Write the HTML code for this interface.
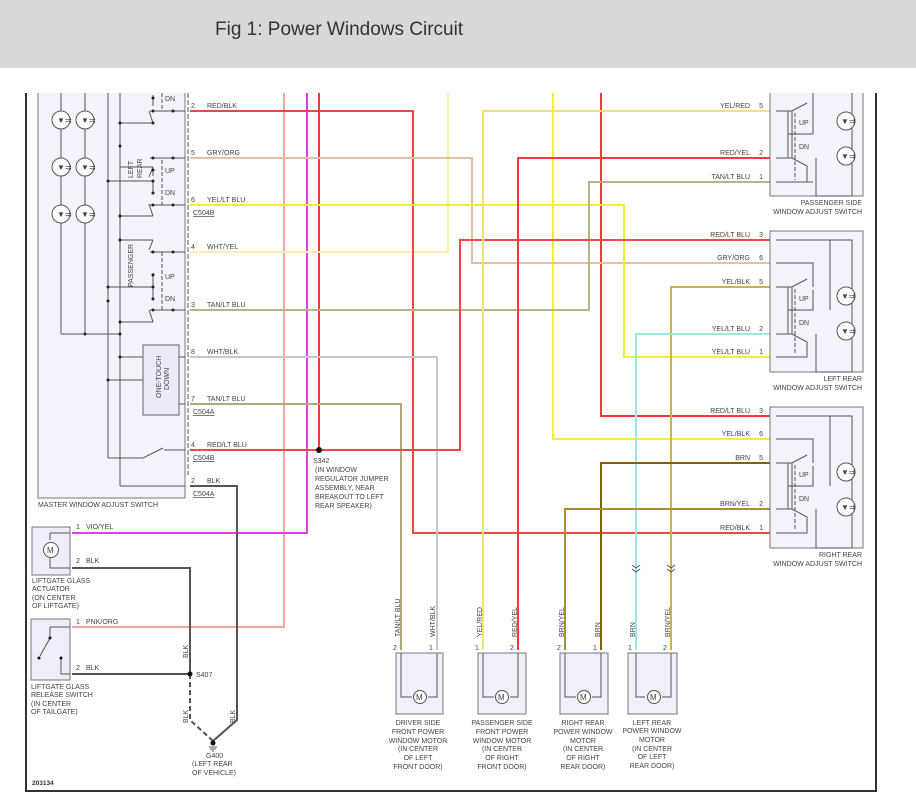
<!DOCTYPE html>
<html><head><meta charset="utf-8"><style>
html,body{margin:0;padding:0;background:#fff;}
svg{display:block;font-family:"Liberation Sans",sans-serif;}
text{font-size:7px;fill:#444;}
</style></head><body>
<svg width="916" height="812" viewBox="0 0 916 812" xmlns="http://www.w3.org/2000/svg">
<rect x="0" y="0" width="916" height="68" fill="#d8d8d8"/>
<text x="215" y="35" style="font-size:19px;fill:#333">Fig 1: Power Windows Circuit</text>
<!-- frame -->
<path d="M26 93 V791 H876 V93" fill="none" stroke="#333" stroke-width="2"/>
<text x="32" y="785" style="font-size:6.5px;font-weight:bold;fill:#333">203134</text>

<!-- master switch box -->
<rect x="38" y="88" width="147" height="410" fill="#f3f3fc" stroke="#777"/>
<rect x="26" y="80" width="850" height="13" fill="#fff"/>
<text x="38" y="507">MASTER WINDOW ADJUST SWITCH</text>
<g fill="none" stroke="#555" stroke-width="1">
<path d="M61 93V334M85 93V334M61 334H120M108 93V458M120 93V486M108 458H143l20-10"/>
<path d="M120 123H153M120 167H153M108 181H153M120 216H153M120 240H153M108 287H153M120 322H153M120 357H143M108 380H143M178 357H185M178 404H185M164 450H185M120 486H185"/>
<path d="M153 95V106M153 123l-4-12M153 167l-4 10M153 170V176M153 181V193M153 216l-4-12M153 240l-4 10M153 273V287M153 287V298M153 322l-4-12M150 111H185M150 158H185M150 205H185M150 252H185M150 310H185"/>
<path d="M162 93V111M162 160V205M162 252V310" stroke-dasharray="4,2"/>
<path d="M188 93V475" stroke-dasharray="5,2"/>
<path d="M85 230V255" />
</g>
<g fill="#222"><circle cx="153" cy="98" r="1.5"/><circle cx="153" cy="111" r="1.5"/><circle cx="173" cy="111" r="1.5"/><circle cx="120" cy="123" r="1.5"/><circle cx="153" cy="123" r="1.5"/>
<circle cx="120" cy="146" r="1.5"/><circle cx="153" cy="158" r="1.5"/><circle cx="173" cy="158" r="1.5"/><circle cx="153" cy="170" r="1.5"/><circle cx="108" cy="181" r="1.5"/><circle cx="153" cy="181" r="1.5"/><circle cx="153" cy="193" r="1.5"/><circle cx="153" cy="205" r="1.5"/><circle cx="173" cy="205" r="1.5"/><circle cx="120" cy="216" r="1.5"/>
<circle cx="120" cy="240" r="1.5"/><circle cx="153" cy="252" r="1.5"/><circle cx="173" cy="252" r="1.5"/><circle cx="153" cy="275" r="1.5"/><circle cx="108" cy="287" r="1.5"/><circle cx="153" cy="287" r="1.5"/><circle cx="153" cy="299" r="1.5"/><circle cx="153" cy="310" r="1.5"/><circle cx="173" cy="310" r="1.5"/><circle cx="120" cy="322" r="1.5"/><circle cx="85" cy="334" r="1.5"/><circle cx="120" cy="334" r="1.5"/><circle cx="120" cy="357" r="1.5"/><circle cx="108" cy="380" r="1.5"/><circle cx="108" cy="301" r="1.5"/></g>
<g fill="#fff" stroke="#555"><circle cx="61" cy="120" r="9"/><circle cx="85" cy="120" r="9"/><circle cx="61" cy="167" r="9"/><circle cx="85" cy="167" r="9"/><circle cx="61" cy="214" r="9"/><circle cx="85" cy="214" r="9"/></g>
<g font-size="6"><text x="57" y="123" style="font-size:8px">▼⇉</text><text x="81" y="123" style="font-size:8px">▼⇉</text><text x="57" y="170" style="font-size:8px">▼⇉</text><text x="81" y="170" style="font-size:8px">▼⇉</text><text x="57" y="217" style="font-size:8px">▼⇉</text><text x="81" y="217" style="font-size:8px">▼⇉</text></g>
<rect x="143" y="345" width="36" height="70" fill="#eaeaf8" stroke="#666"/>
<text transform="translate(161,398) rotate(-90)">ONE-TOUCH</text><text transform="translate(169,390) rotate(-90)">DOWN</text>
<text transform="translate(133,178) rotate(-90)">LEFT</text><text transform="translate(142,178) rotate(-90)">REAR</text>
<text transform="translate(133,287) rotate(-90)">PASSENGER</text>
<text x="165" y="101">DN</text><text x="165" y="173">UP</text><text x="165" y="195">DN</text><text x="165" y="279">UP</text><text x="165" y="301">DN</text>

<!-- wires -->
<g fill="none" stroke-width="2">
<path d="M284 93V627H72" stroke="#f5a3a3"/>
<path d="M307 93V533H72" stroke="#e040e0"/>
<path d="M319 93V450" stroke="#f03c3c"/>
<path d="M448 93V252H190" stroke="#f7f0a8"/>
<path d="M553 93V439H770" stroke="#f4ef30"/>
<path d="M601 93V416H770" stroke="#f03c3c"/>
<path d="M190 111H413V533H770" stroke="#f04545"/>
<path d="M190 158H472V263H770" stroke="#e6c0a4"/>
<path d="M190 205H624V357H770" stroke="#f2f22a"/>
<path d="M190 310H589V182H770" stroke="#b5b588"/>
<path d="M190 357H437V650" stroke="#c8c8c8"/>
<path d="M190 404H401V650" stroke="#b0a878"/>
<path d="M190 450H460V240H770" stroke="#f04848"/>
<path d="M190 486H237V720L213 741" stroke="#555"/>
<path d="M72 568H190V674" stroke="#555"/>
<path d="M72 674H190" stroke="#555"/>
<path d="M190 674V720L213 741" stroke="#555" stroke-dasharray="5,3"/>
<path d="M770 111H483V650" stroke="#f6e070"/>
<path d="M770 158H518V650" stroke="#f03c3c"/>
<path d="M770 287H671V650" stroke="#c8b838"/>
<path d="M770 334H636V650" stroke="#9ae8e0"/>
<path d="M770 463H601V650" stroke="#806000"/>
<path d="M770 509H565V650" stroke="#a89030"/>
</g>
<circle cx="319" cy="450" r="3" fill="#111"/>
<circle cx="190" cy="674" r="2.5" fill="#111"/>
<circle cx="213" cy="743" r="2.5" fill="#111"/>
<path d="M209 747H217M210 749H216M212 751H214" stroke="#555"/>
<text x="313" y="463">S342</text><text x="315" y="472">(IN WINDOW</text><text x="315" y="481">REGULATOR JUMPER</text><text x="315" y="490">ASSEMBLY, NEAR</text><text x="315" y="499">BREAKOUT TO LEFT</text><text x="315" y="508">REAR SPEAKER)</text>
<text x="196" y="677">S407</text>
<text x="206" y="758">G400</text><text x="192" y="766">(LEFT REAR</text><text x="192" y="775">OF VEHICLE)</text>
<text transform="translate(188,658) rotate(-90)">BLK</text><text transform="translate(188,723) rotate(-90)">BLK</text><text transform="translate(235,723) rotate(-90)">BLK</text>

<!-- master wire labels -->
<g><text x="191" y="108">2</text><text x="207" y="108">RED/BLK</text>
<text x="191" y="155">5</text><text x="207" y="155">GRY/ORG</text>
<text x="191" y="202">6</text><text x="207" y="202">YEL/LT BLU</text><text x="193" y="215" text-decoration="underline">C504B</text>
<text x="191" y="249">4</text><text x="207" y="249">WHT/YEL</text>
<text x="191" y="307">3</text><text x="207" y="307">TAN/LT BLU</text>
<text x="191" y="354">8</text><text x="207" y="354">WHT/BLK</text>
<text x="191" y="401">7</text><text x="207" y="401">TAN/LT BLU</text><text x="193" y="414" text-decoration="underline">C504A</text>
<text x="191" y="447">4</text><text x="207" y="447">RED/LT BLU</text><text x="193" y="460" text-decoration="underline">C504B</text>
<text x="191" y="483">2</text><text x="207" y="483">BLK</text><text x="193" y="496" text-decoration="underline">C504A</text></g>

<!-- liftgate -->
<rect x="32" y="527" width="38" height="48" fill="#eeeefa" stroke="#777"/>
<path d="M50 533H70M50 533V540M50 556V568H70" fill="none" stroke="#555"/>
<circle cx="51" cy="550" r="7.5" fill="#fff" stroke="#555"/><text x="47" y="553" style="font-size:8px">M</text>
<text x="76" y="529">1</text><text x="86" y="529">VIO/YEL</text><text x="76" y="563">2</text><text x="86" y="563">BLK</text>
<text x="32" y="583">LIFTGATE GLASS</text><text x="32" y="591">ACTUATOR</text><text x="32" y="600">(ON CENTER</text><text x="32" y="608">OF LIFTGATE)</text>
<rect x="31" y="619" width="39" height="61" fill="#eeeefa" stroke="#777"/>
<path d="M50 627H70M50 627V638l-10 18M61 658V674H70" fill="none" stroke="#555"/>
<circle cx="50" cy="638" r="1.5" fill="#111"/><circle cx="39" cy="658" r="1.5" fill="#111"/><circle cx="61" cy="658" r="1.5" fill="#111"/>
<text x="76" y="624">1</text><text x="86" y="624">PNK/ORG</text><text x="76" y="670">2</text><text x="86" y="670">BLK</text>
<text x="31" y="689">LIFTGATE GLASS</text><text x="31" y="697">RELEASE SWITCH</text><text x="31" y="706">(IN CENTER</text><text x="31" y="714">OF TAILGATE)</text>

<!-- right switches -->
<g fill="#f3f3fc" stroke="#777"><rect x="770" y="88" width="93" height="108"/><rect x="770" y="231" width="93" height="141"/><rect x="770" y="407" width="93" height="141"/></g>
<rect x="700" y="80" width="176" height="13" fill="#fff"/>
<g fill="none" stroke="#555">
<path d="M776 111H792l15-8M792 111V158M776 158H792l15 8V182H776M788 111V158M788 134H813M813 93V134M852 93V196M816 196H852M816 158V196M776 182H813"/>
<path d="M776 240H852V372M776 263H813V287M776 287H792l15-8M792 287V334M776 334H792l15 8V357H776M788 287V334M788 310H813V290M816 372H852M816 334V372M830 240V310"/>
<path d="M776 416H852V548M776 439H813V463M776 463H792l15-8M792 463V509M776 509H792l15 8V533H776M788 463V509M788 486H813V466M816 548H852M816 509V548M830 416V486"/>
<path d="M795 113V180M795 289V355M795 465V531" stroke-dasharray="4,2"/>
</g>
<g fill="#fff" stroke="#555"><circle cx="846" cy="121" r="9"/><circle cx="846" cy="156" r="9"/><circle cx="846" cy="296" r="9"/><circle cx="846" cy="331" r="9"/><circle cx="846" cy="472" r="9"/><circle cx="846" cy="507" r="9"/></g>
<g style="font-size:8px"><text x="841" y="124" style="font-size:8px">▼⇉</text><text x="841" y="159" style="font-size:8px">▼⇉</text><text x="841" y="299" style="font-size:8px">▼⇉</text><text x="841" y="334" style="font-size:8px">▼⇉</text><text x="841" y="475" style="font-size:8px">▼⇉</text><text x="841" y="510" style="font-size:8px">▼⇉</text></g>
<text x="799" y="125">UP</text><text x="799" y="149">DN</text><text x="799" y="301">UP</text><text x="799" y="325">DN</text><text x="799" y="477">UP</text><text x="799" y="501">DN</text>
<g text-anchor="end"><text x="750" y="108">YEL/RED</text><text x="763" y="108">5</text>
<text x="750" y="155">RED/YEL</text><text x="763" y="155">2</text>
<text x="750" y="179">TAN/LT BLU</text><text x="763" y="179">1</text>
<text x="750" y="237">RED/LT BLU</text><text x="763" y="237">3</text>
<text x="750" y="260">GRY/ORG</text><text x="763" y="260">6</text>
<text x="750" y="284">YEL/BLK</text><text x="763" y="284">5</text>
<text x="750" y="331">YEL/LT BLU</text><text x="763" y="331">2</text>
<text x="750" y="354">YEL/LT BLU</text><text x="763" y="354">1</text>
<text x="750" y="413">RED/LT BLU</text><text x="763" y="413">3</text>
<text x="750" y="436">YEL/BLK</text><text x="763" y="436">6</text>
<text x="750" y="460">BRN</text><text x="763" y="460">5</text>
<text x="750" y="506">BRN/YEL</text><text x="763" y="506">2</text>
<text x="750" y="530">RED/BLK</text><text x="763" y="530">1</text>
<text x="862" y="205">PASSENGER SIDE</text><text x="862" y="214">WINDOW ADJUST SWITCH</text>
<text x="862" y="381">LEFT REAR</text><text x="862" y="390">WINDOW ADJUST SWITCH</text>
<text x="862" y="557">RIGHT REAR</text><text x="862" y="566">WINDOW ADJUST SWITCH</text></g>

<!-- motors -->
<g fill="#f0f0fa" stroke="#777"><rect x="396" y="653" width="47" height="61"/><rect x="478" y="653" width="48" height="61"/><rect x="560" y="653" width="48" height="61"/><rect x="628" y="653" width="49" height="61"/></g>
<g fill="none" stroke="#555">
<path d="M401 653V697H412M437 653V697H428"/><path d="M483 653V697H494M518 653V697H510"/><path d="M565 653V697H576M601 653V697H592"/><path d="M636 653V697H645M671 653V697H662"/>
</g>
<g fill="#fff" stroke="#555"><circle cx="420" cy="697" r="6.5"/><circle cx="502" cy="697" r="6.5"/><circle cx="584" cy="697" r="6.5"/><circle cx="654" cy="697" r="6.5"/></g>
<g style="font-size:8px"><text x="416" y="700" style="font-size:8px">M</text><text x="498" y="700" style="font-size:8px">M</text><text x="580" y="700" style="font-size:8px">M</text><text x="650" y="700" style="font-size:8px">M</text></g>
<path d="M632 565l4 3 4-3M667 565l4 3 4-3M632 569l4 3 4-3M667 569l4 3 4-3" fill="none" stroke="#555"/>
<g><text x="393" y="650">2</text><text x="429" y="650">1</text><text x="475" y="650">1</text><text x="510" y="650">2</text><text x="557" y="650">2</text><text x="593" y="650">1</text><text x="628" y="650">1</text><text x="663" y="650">2</text></g>
<g><text transform="translate(400,637) rotate(-90)">TAN/LT BLU</text><text transform="translate(435,637) rotate(-90)">WHT/BLK</text>
<text transform="translate(482,637) rotate(-90)">YEL/RED</text><text transform="translate(517,637) rotate(-90)">RED/YEL</text>
<text transform="translate(564,637) rotate(-90)">BRN/YEL</text><text transform="translate(600,637) rotate(-90)">BRN</text>
<text transform="translate(635,637) rotate(-90)">BRN</text><text transform="translate(670,637) rotate(-90)">BRN/YEL</text></g>
<g text-anchor="middle"><text x="418" y="725">DRIVER SIDE</text><text x="418" y="734">FRONT POWER</text><text x="418" y="743">WINDOW MOTOR</text><text x="418" y="751">(IN CENTER</text><text x="418" y="760">OF LEFT</text><text x="418" y="769">FRONT DOOR)</text>
<text x="502" y="725">PASSENGER SIDE</text><text x="502" y="734">FRONT POWER</text><text x="502" y="743">WINDOW MOTOR</text><text x="502" y="751">(IN CENTER</text><text x="502" y="760">OF RIGHT</text><text x="502" y="769">FRONT DOOR)</text>
<text x="583" y="725">RIGHT REAR</text><text x="583" y="734">POWER WINDOW</text><text x="583" y="743">MOTOR</text><text x="583" y="751">(IN CENTER</text><text x="583" y="760">OF RIGHT</text><text x="583" y="769">REAR DOOR)</text>
<text x="652" y="725">LEFT REAR</text><text x="652" y="733">POWER WINDOW</text><text x="652" y="742">MOTOR</text><text x="652" y="751">(IN CENTER</text><text x="652" y="759">OF LEFT</text><text x="652" y="768">REAR DOOR)</text></g>
</svg>
</body></html>
